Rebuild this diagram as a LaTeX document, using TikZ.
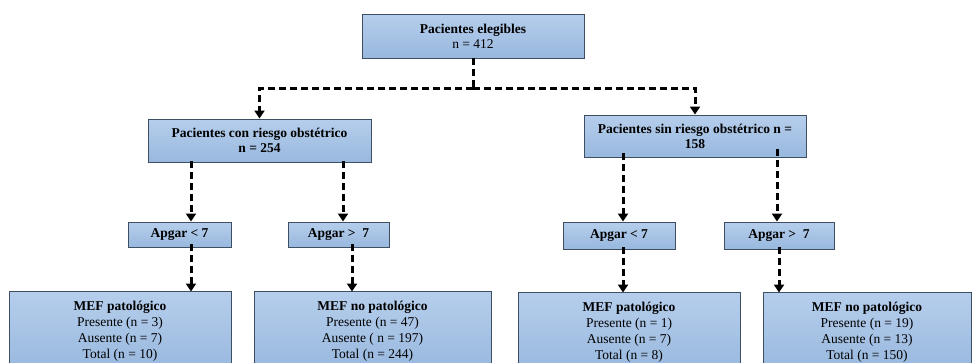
\documentclass[tikz,border=0pt]{standalone}
\usepackage{fontspec}
\setmainfont{Liberation Serif}
\usetikzlibrary{arrows.meta}
\definecolor{boxtop}{HTML}{B6CEEC}
\definecolor{boxbot}{HTML}{98B8DE}
\definecolor{boxline}{HTML}{3F4F62}
\tikzset{
  box/.style={draw=boxline, line width=0.9pt, top color=boxtop, bottom color=boxbot,
    inner sep=0pt, align=center, font=\fontsize{13.5}{15}\selectfont},
  bigbox/.style={box, font=\fontsize{13.5}{16}\selectfont},
  dl/.style={line width=3pt, dash pattern=on 7pt off 4pt},
  arr/.style={dl, -{Triangle[width=10pt,length=8pt]}},
}
\begin{document}
\begin{tikzpicture}[x=1pt,y=-1pt]
\clip (0,0) rectangle (973,362);
\useasboundingbox (0,0) rectangle (973,362);
\fill[white] (0,0) rectangle (973,362);
% boxes
\node[box, minimum width=222pt, minimum height=44pt] (top) at (473,36)
  {\textbf{Pacientes elegibles}\\ n = 412};
\node[box, minimum width=223pt, minimum height=43pt] (L) at (259.5,140.5)
  {\textbf{Pacientes con riesgo obstétrico}\\ \textbf{n = 254}};
\node[box, minimum width=222pt, minimum height=42pt] (R) at (695,136)
  {\textbf{Pacientes sin riesgo obstétrico n =}\\ \textbf{158}};
\node[box, minimum width=103pt, minimum height=25pt] (A1) at (179.5,234.5) {\textbf{Apgar < 7}};
\node[box, minimum width=101pt, minimum height=25pt] (A2) at (338.5,234.5) {\textbf{Apgar >\ \ 7}};
\node[box, minimum width=112pt, minimum height=27pt] (A3) at (619,235.5) {\textbf{Apgar < 7}};
\node[box, minimum width=110pt, minimum height=27pt] (A4) at (779,235.5) {\textbf{Apgar >\ \ 7}};
\node[bigbox, minimum width=222pt, minimum height=80pt] (B1) at (120,331)
  {\textbf{MEF patológico}\\ Presente (n = 3)\\ Ausente (n = 7)\\ Total (n = 10)};
\node[bigbox, minimum width=237pt, minimum height=80pt] (B2) at (372.5,331)
  {\textbf{MEF no patológico}\\ Presente (n = 47)\\ Ausente ( n = 197)\\ Total (n = 244)};
\node[bigbox, minimum width=222pt, minimum height=80pt] (B3) at (629,332)
  {\textbf{MEF patológico}\\ Presente (n = 1)\\ Ausente (n = 7)\\ Total (n = 8)};
\node[bigbox, minimum width=208pt, minimum height=80pt] (B4) at (867,332)
  {\textbf{MEF no patológico}\\ Presente (n = 19)\\ Ausente (n = 13)\\ Total (n = 150)};
% connectors
\coordinate (j) at (473,88);
\coordinate (x1) at (191,0);
\coordinate (x2) at (343,0);
\coordinate (x3) at (623,0);
\coordinate (x4) at (777,0);
\coordinate (y5) at (352,0);
\coordinate (y7) at (779,0);
\draw[dl] (top.south) -- (j);
\draw[arr] (j) -| (L.north);
\draw[arr] (j) -| (R.north);
\draw[arr] ([yshift=1pt]L.south -| x1) -- (A1.north -| x1);
\draw[arr] ([yshift=1pt]L.south -| x2) -- (A2.north -| x2);
\draw[arr] ([yshift=4pt]R.south -| x3) -- (A3.north -| x3);
\draw[arr] ([yshift=8pt]R.south -| x4) -- (A4.north -| x4);
\draw[arr] ([yshift=3pt]A1.south -| x1) -- ([yshift=-1pt]B1.north -| x1);
\draw[arr] ([yshift=3pt]A2.south -| y5) -- ([yshift=-1pt]B2.north -| y5);
\draw[arr] ([yshift=2pt]A3.south -| x3) -- ([yshift=-1pt]B3.north -| x3);
\draw[arr] ([yshift=2pt]A4.south -| y7) -- ([yshift=-1pt]B4.north -| y7);
\end{tikzpicture}
\end{document}
